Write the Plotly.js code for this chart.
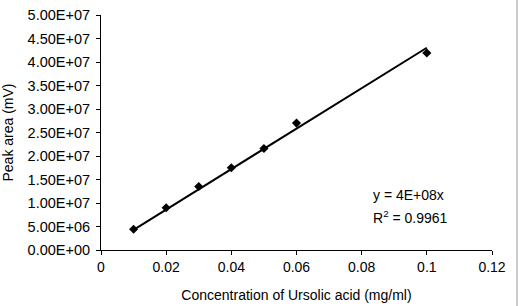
<!DOCTYPE html>
<html>
<head>
<meta charset="utf-8">
<script src="https://cdn.plot.ly/plotly-3.0.1.min.js"></script>
<style>html,body{margin:0;padding:0;background:#fff;}#chart{width:518px;height:306px;}</style>
</head>
<body>
<div id="chart"></div>
<script>
// Data
const concentration = [0.01, 0.02, 0.03, 0.04, 0.05, 0.06, 0.1];
const peakArea = [4.4e6, 9.0e6, 13.5e6, 17.5e6, 21.6e6, 27.0e6, 41.9e6];
const xTickVals = [0, 0.02, 0.04, 0.06, 0.08, 0.1, 0.12];
const xTickText = ["0", "0.02", "0.04", "0.06", "0.08", "0.1", "0.12"];
const yTickVals = [0, 5e6, 1e7, 1.5e7, 2e7, 2.5e7, 3e7, 3.5e7, 4e7, 4.5e7, 5e7];
const yTickText = ["0.00E+00", "5.00E+06", "1.00E+07", "1.50E+07", "2.00E+07", "2.50E+07", "3.00E+07", "3.50E+07", "4.00E+07", "4.50E+07", "5.00E+07"];
const equationText = "y = 4E+08x";
const r2Text = "R<sup>2</sup> = 0.9961";

// Linear trendline through origin (least squares)
let sxy = 0, sxx = 0;
for (let i = 0; i < concentration.length; i++) {
  sxy += concentration[i] * peakArea[i];
  sxx += concentration[i] * concentration[i];
}
const slope = sxy / sxx;
const xMin = Math.min(...concentration), xMax = Math.max(...concentration);
const trendX = [xMin, xMax];
const trendY = trendX.map(x => slope * x);

const font = {family: "Liberation Sans, Arial, sans-serif", color: "#000"};

const data = [
  {x: trendX, y: trendY, mode: "lines", type: "scatter",
   line: {color: "#000", width: 2}, hoverinfo: "skip", showlegend: false},
  {x: concentration, y: peakArea, mode: "markers", type: "scatter",
   marker: {symbol: "diamond", size: 7, color: "#000"}, showlegend: false}
];

const layout = {
  width: 518, height: 306,
  margin: {l: 101, r: 26, t: 15, b: 56},
  paper_bgcolor: "#fff", plot_bgcolor: "#fff",
  font: Object.assign({size: 14}, font),
  showlegend: false,
  xaxis: {
    range: [0, 0.12], tickvals: xTickVals, ticktext: xTickText,
    showgrid: false, zeroline: false, showline: true, linecolor: "#000", linewidth: 1,
    ticks: "outside", ticklen: 4, tickcolor: "#000", tickwidth: 1,
    tickfont: Object.assign({size: 14}, font),
    title: {text: "Concentration of Ursolic acid (mg/ml)", font: Object.assign({size: 14}, font), standoff: 16}
  },
  yaxis: {
    range: [0, 5e7], tickvals: yTickVals, ticktext: yTickText,
    showgrid: false, zeroline: false, showline: true, linecolor: "#000", linewidth: 1,
    ticks: "outside", ticklen: 4, tickcolor: "#000", tickwidth: 1,
    ticklabelstandoff: 3,
    tickfont: Object.assign({size: 14.5}, font),
    title: {text: "Peak area (mV)", font: Object.assign({size: 14}, font), standoff: 11}
  },
  annotations: [
    {x: 0.083, y: 1.17e7, xref: "x", yref: "y", text: equationText, showarrow: false,
     xanchor: "left", yanchor: "middle", font: Object.assign({size: 14}, font)},
    {x: 0.083, y: 0.70e7, xref: "x", yref: "y", text: r2Text, showarrow: false,
     xanchor: "left", yanchor: "middle", font: Object.assign({size: 14}, font)}
  ],
  shapes: [
    {type: "line", xref: "paper", yref: "paper", x0: 1.0639, x1: 1.0639, y0: -0.3, y1: 1.1,
     line: {color: "#999", width: 1}}
  ]
};

Plotly.newPlot("chart", data, layout, {displayModeBar: false, staticPlot: true});
</script>
</body>
</html>
